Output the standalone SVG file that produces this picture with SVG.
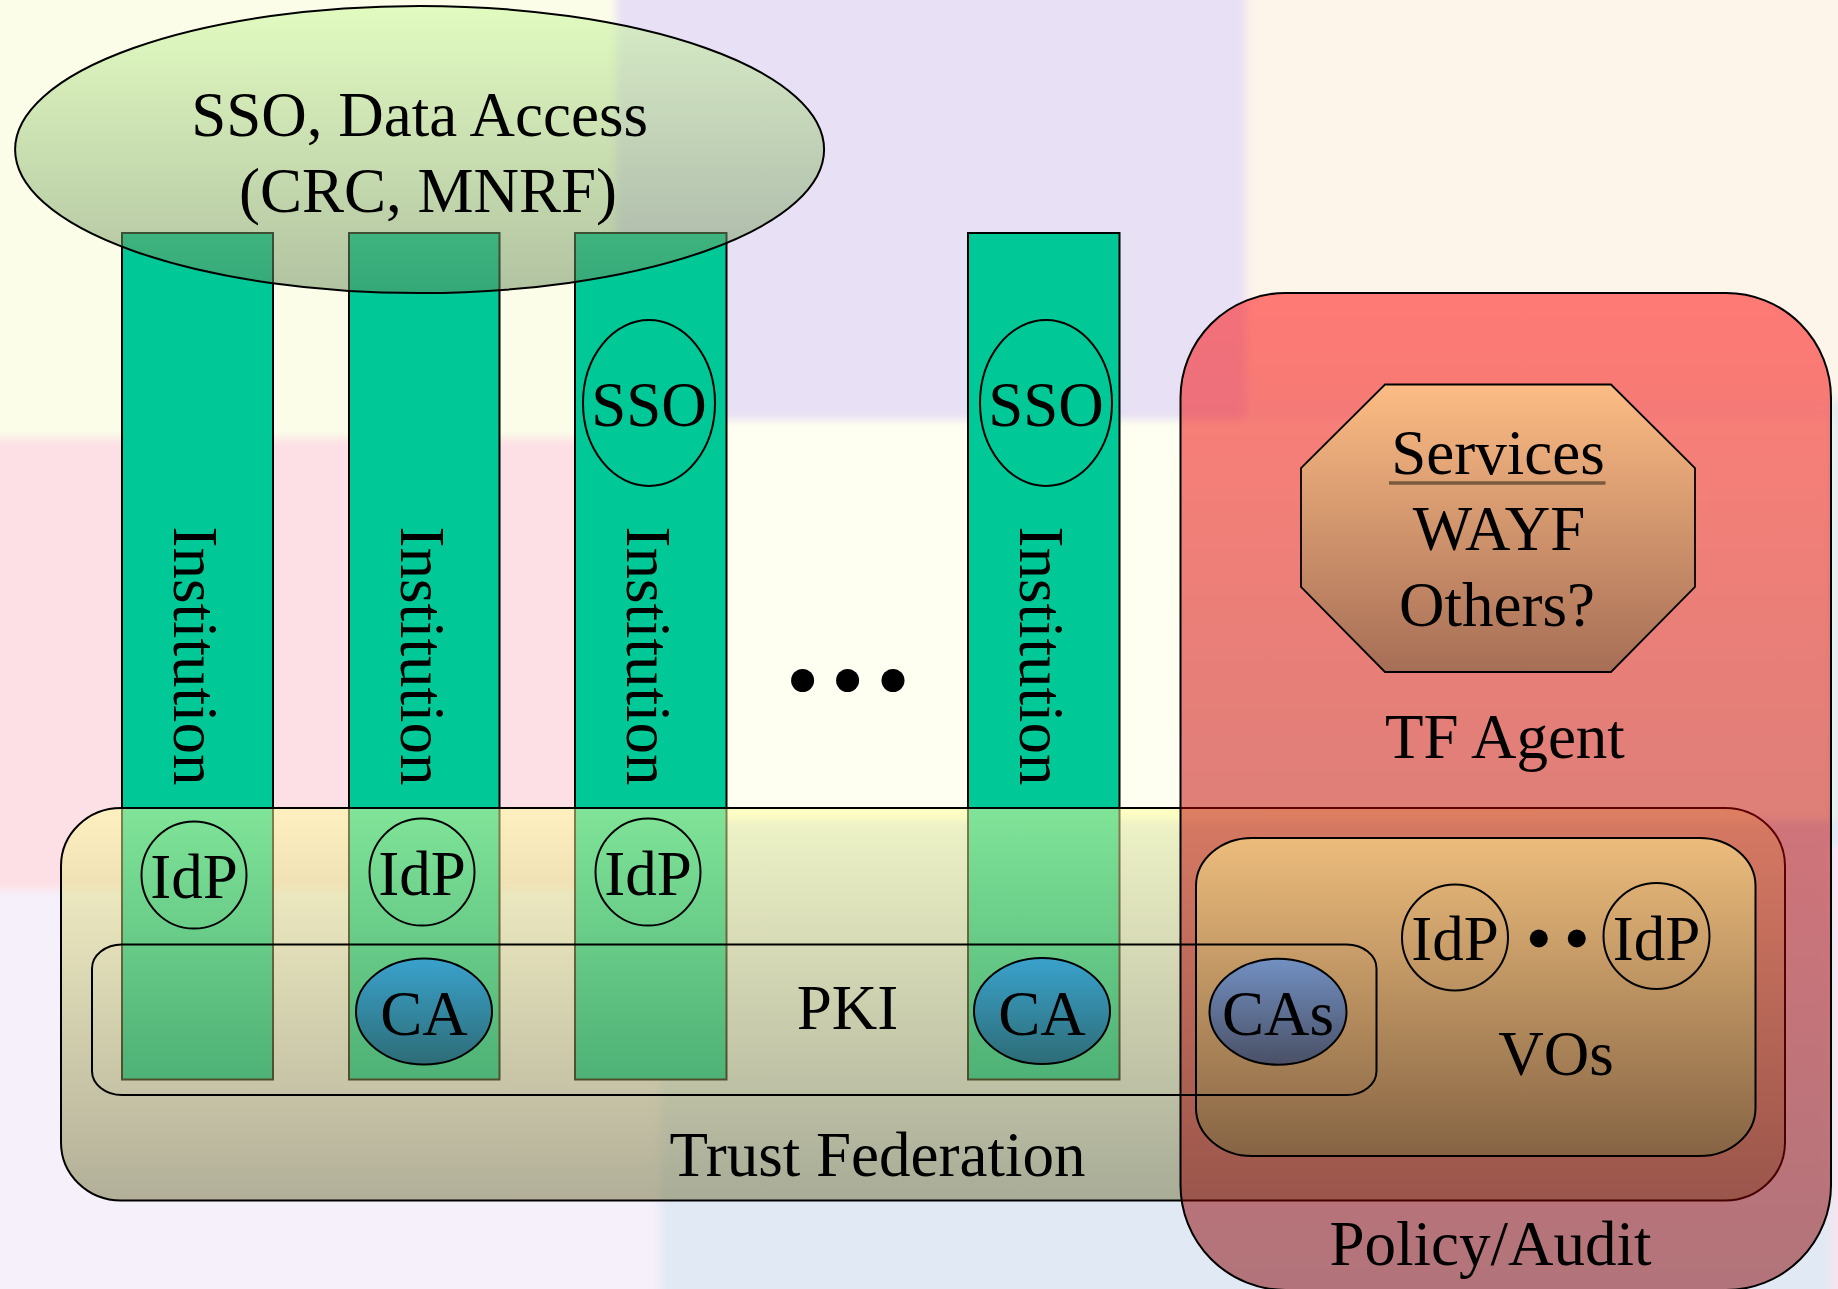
<svg xmlns="http://www.w3.org/2000/svg" width="1838" height="1289" viewBox="0 0 1838 1289">
<defs>
<style>
.t{font-family:"Liberation Serif","Times New Roman",serif;font-size:63px;fill:#000;text-anchor:middle}
.ln{stroke:#000;stroke-width:2}
.col{fill:#00c896;stroke:#000;stroke-width:2}
.ov{fill:none;stroke:#000;stroke-width:2}
</style>
<filter id="blur" x="-5%" y="-5%" width="110%" height="110%"><feGaussianBlur stdDeviation="4"/></filter>
<linearGradient id="gEll" x1="0" y1="0" x2="0" y2="1"><stop offset="0" stop-color="rgb(200,249,152)"/><stop offset="1" stop-color="rgb(104,136,90)"/></linearGradient>
<linearGradient id="gTF" x1="0" y1="0" x2="0" y2="1"><stop offset="0" stop-color="rgb(255,255,154)"/><stop offset="1" stop-color="rgb(112,110,56)"/></linearGradient>
<linearGradient id="gPol" x1="0" y1="0" x2="0" y2="1"><stop offset="0" stop-color="rgb(255,0,0)"/><stop offset="1" stop-color="rgb(130,0,0)"/></linearGradient>
<linearGradient id="gOct" x1="0" y1="0" x2="0" y2="1"><stop offset="0" stop-color="#fcbc84"/><stop offset="1" stop-color="#a66e56"/></linearGradient>
<linearGradient id="gVO" x1="0" y1="0" x2="0" y2="1"><stop offset="0" stop-color="#ecbc7c"/><stop offset="1" stop-color="#866444"/></linearGradient>
<linearGradient id="gCA" x1="0" y1="0" x2="0" y2="1"><stop offset="0" stop-color="#3aa2cc"/><stop offset="1" stop-color="#2d6c76"/></linearGradient>
<linearGradient id="gCAs" x1="0" y1="0" x2="0" y2="1"><stop offset="0" stop-color="#7290c2"/><stop offset="1" stop-color="#4a5066"/></linearGradient>
</defs>

<g id="background">
<rect width="1838" height="1289" fill="#f8f4f0"/>
<g filter="url(#blur)">
<rect x="-50" y="-50" width="666" height="488" fill="#fbfde9"/>
<rect x="616" y="-50" width="630" height="470" fill="#e8e0f4"/>
<rect x="1246" y="-50" width="660" height="450" fill="#fdf4ea"/>
<rect x="-50" y="438" width="666" height="452" fill="#fde0e5"/>
<rect x="616" y="420" width="1290" height="400" fill="#fefff0"/>
<rect x="1831" y="400" width="80" height="446" fill="#e0ecec"/>
<rect x="-50" y="890" width="710" height="450" fill="#f5f0fa"/>
<rect x="660" y="820" width="1240" height="520" fill="#e1e9f5"/>
<rect x="1831" y="846" width="80" height="494" fill="#f8e4f0"/>
</g>
</g>

<g id="connectors"/>

<g id="institution-1">
<rect class="col" x="122" y="233" width="151" height="846.5"/>
<text class="t" transform="translate(174,656) rotate(90)">Institution</text>
</g>
<g id="institution-2">
<rect class="col" x="349" y="233" width="150.5" height="846.5"/>
<text class="t" transform="translate(401,656) rotate(90)">Institution</text>
</g>
<g id="institution-3">
<rect class="col" x="575" y="233" width="151.5" height="846.5"/>
<text class="t" transform="translate(627,656) rotate(90)">Institution</text>
<ellipse class="ov" cx="649" cy="403" rx="66" ry="83"/>
<text class="t" x="649" y="426">SSO</text>
</g>
<g id="institution-4">
<rect class="col" x="968" y="233" width="151.5" height="846.5"/>
<text class="t" transform="translate(1020,656) rotate(90)">Institution</text>
<ellipse class="ov" cx="1046" cy="403" rx="66" ry="83"/>
<text class="t" x="1046" y="426">SSO</text>
</g>

<g id="ellipsis">
<circle cx="802.6" cy="680.5" r="11.5"/>
<circle cx="847.6" cy="680.5" r="11.5"/>
<circle cx="893" cy="680.5" r="11.5"/>
</g>

<g id="sso-data-access">
<ellipse cx="419.6" cy="149.5" rx="404.5" ry="143.5" fill="url(#gEll)" fill-opacity="0.5" class="ln"/>
<text class="t" x="419.6" y="136">SSO, Data Access</text>
<text class="t" x="428" y="211.5">(CRC, MNRF)</text>
</g>

<g id="trust-federation">
<rect x="61" y="808" width="1724" height="392.5" rx="60" ry="58" fill="url(#gTF)" fill-opacity="0.5" class="ln"/>
</g>

<g id="idp-1"><ellipse class="ov" cx="194" cy="875" rx="52.5" ry="53.5"/><text class="t" x="194" y="898">IdP</text></g>
<g id="idp-2"><ellipse class="ov" cx="422" cy="872" rx="52.5" ry="53.5"/><text class="t" x="422" y="895">IdP</text></g>
<g id="idp-3"><ellipse class="ov" cx="648" cy="872" rx="52.5" ry="53.5"/><text class="t" x="648" y="895">IdP</text></g>
<g id="ca-2"><ellipse cx="424" cy="1011.5" rx="68" ry="53" fill="url(#gCA)" class="ln"/><text class="t" x="424" y="1035">CA</text></g>
<g id="ca-4"><ellipse cx="1042" cy="1011" rx="68" ry="53" fill="url(#gCA)" class="ln"/><text class="t" x="1042" y="1035">CA</text></g>

<g id="policy-audit">
<rect x="1180.5" y="293" width="650.5" height="997" rx="105" ry="105" fill="url(#gPol)" fill-opacity="0.5" class="ln"/>
</g>

<g id="tf-agent">
<polygon points="1385,384.5 1611,384.5 1695,468 1695,587 1611,672 1385,672 1301,587 1301,468" fill="url(#gOct)" stroke="#000" stroke-width="1.8"/>
<text class="t" x="1498" y="474">Services</text>
<line x1="1389" y1="483" x2="1605.5" y2="483" stroke="#7a5a3c" stroke-width="3.5"/>
<text class="t" x="1499" y="550">WAYF</text>
<text class="t" x="1497" y="626">Others?</text>
<text class="t" x="1505" y="758">TF Agent</text>
</g>

<g id="vos">
<rect x="1196" y="838" width="559.5" height="318" rx="56" ry="48" fill="url(#gVO)" class="ln"/>
<ellipse class="ov" cx="1455" cy="937.5" rx="53" ry="53"/>
<text class="t" x="1455" y="960">IdP</text>
<ellipse class="ov" cx="1656.5" cy="936" rx="53" ry="53"/>
<text class="t" x="1656.5" y="960">IdP</text>
<circle cx="1538.8" cy="938.5" r="9"/>
<circle cx="1576.8" cy="938.5" r="9"/>
<text class="t" x="1556" y="1075">VOs</text>
</g>

<g id="pki">
<rect x="92" y="944.5" width="1284.5" height="150.5" rx="30" ry="24" fill="none" class="ln"/>
<text class="t" x="847.6" y="1029">PKI</text>
</g>

<g id="cas"><ellipse cx="1278" cy="1011.7" rx="68.5" ry="53" fill="url(#gCAs)" class="ln"/><text class="t" x="1278" y="1035">CAs</text></g>

<g id="labels">
<text class="t" x="877.5" y="1176">Trust Federation</text>
<text class="t" x="1490.5" y="1265">Policy/Audit</text>
</g>
</svg>
